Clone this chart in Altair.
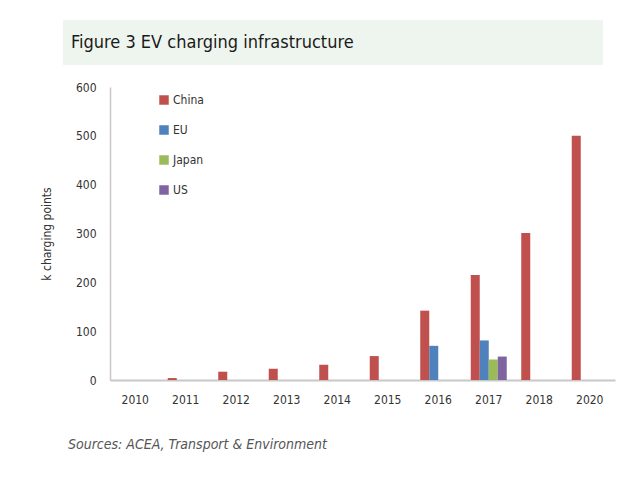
import altair as alt
import pandas as pd

years = ["2010", "2011", "2012", "2013", "2014", "2015", "2016", "2017", "2018", "2020"]
series = ["China", "EU", "Japan", "US"]
china = [None, 4, 17, 23, 31, 49, 142, 215, 301, 500]
eu = [None, None, None, None, None, None, 70, 81, None, None]
japan = [None, None, None, None, None, None, None, 42, None, None]
us = [None, None, None, None, None, None, None, 48, None, None]
colors = ["#c0504d", "#4f81bd", "#9bbb59", "#8064a2"]
y_ticks = [0, 100, 200, 300, 400, 500, 600]

title_text = "Figure 3 EV charging infrastructure"
source_text = "Sources: ACEA, Transport & Environment"

rows = []
for name, vals in zip(series, [china, eu, japan, us]):
    for yr, v in zip(years, vals):
        if v is not None:
            rows.append({"year": yr, "region": name, "value": v})
df = pd.DataFrame(rows)

FONT = "DejaVu Sans Condensed, Liberation Sans Narrow, sans-serif"

bars = alt.Chart(df).mark_bar().encode(
    x=alt.X("year:N", sort=years, scale=alt.Scale(domain=years, paddingInner=0.287, paddingOuter=0.1435),
            axis=alt.Axis(title=None, labelAngle=0, ticks=False, labelPadding=14, labelFontSize=12,
                          labelColor="#333333", labelFont=FONT, domainColor="#c8c8c8", domainWidth=2)),
    xOffset=alt.XOffset("region:N", scale=alt.Scale(domain=series, paddingInner=0, paddingOuter=0)),
    y=alt.Y("value:Q", scale=alt.Scale(domain=[0, 600], nice=False),
            axis=alt.Axis(title="k charging points", values=y_ticks, grid=False, ticks=False,
                          labelPadding=14, labelFontSize=12, labelColor="#333333", labelFont=FONT,
                          titleFont=FONT, titleFontSize=12, titleFontWeight="normal", titleColor="#333333",
                          titlePadding=22, domainColor="#c8c8c8", domainWidth=1.5)),
    color=alt.Color("region:N", scale=alt.Scale(domain=series, range=colors),
                    legend=alt.Legend(title=None, orient="none", legendX=48, legendY=7,
                                      symbolType="square", symbolSize=90, symbolStrokeWidth=0,
                                      labelFontSize=12, labelFont=FONT, labelColor="#333333",
                                      rowPadding=18, labelOffset=3)),
)

one = alt.Data(values=[{"t": title_text, "s": source_text}])

band = alt.Chart(one).mark_rect(color="#eef5ee").encode(
    x=alt.value(-47), x2=alt.value(493), y=alt.value(-67), y2=alt.value(-22)
)
title = alt.Chart(one).mark_text(align="left", baseline="middle", fontSize=18, font=FONT,
                                 color="#1a1a1a", fontWeight=500).encode(
    x=alt.value(-39), y=alt.value(-44), text="t:N"
)
source = alt.Chart(one).mark_text(align="left", baseline="middle", fontSize=14, font=FONT,
                                  color="#555555", fontStyle="italic").encode(
    x=alt.value(-42), y=alt.value(358), text="s:N"
)

chart = alt.layer(band, title, bars, source).properties(
    width=505, height=293,
    autosize=alt.AutoSizeParams(type="none"),
    padding={"left": 110, "top": 87, "right": 25, "bottom": 113},
    background="white",
).configure_view(stroke=None)

chart.save("out.html", embed_options={"renderer": "svg", "actions": False})
